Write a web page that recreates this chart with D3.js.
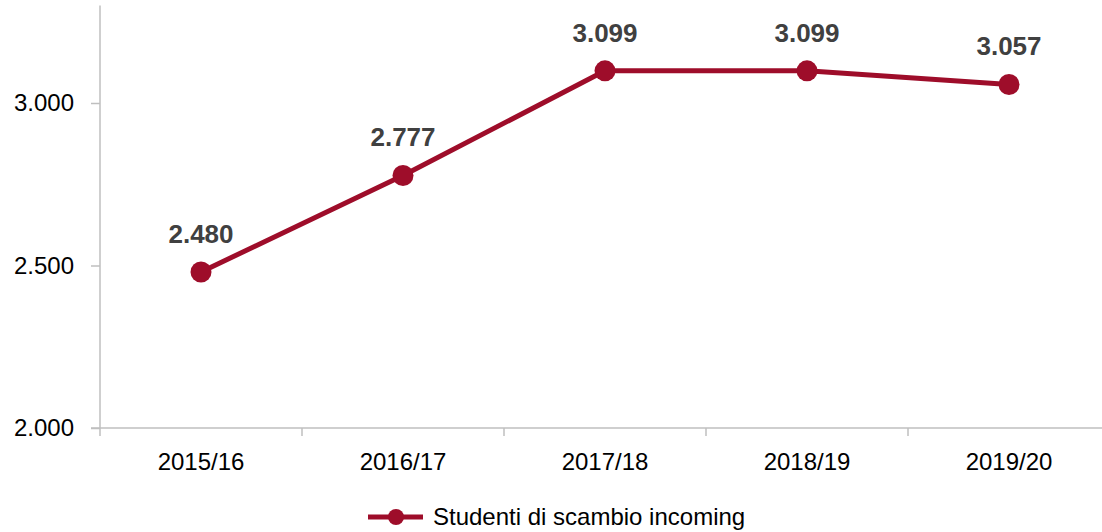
<!DOCTYPE html>
<html><head><meta charset="utf-8">
<script src="https://cdn.jsdelivr.net/npm/d3@7"></script>
<style>
body{margin:0;background:#fff;}
svg{display:block;font-family:"Liberation Sans",Arial,sans-serif;}
</style></head>
<body><svg id="c" width="1102" height="532"></svg>
<script>
const categories = ["2015/16","2016/17","2017/18","2018/19","2019/20"];
const values = [2480, 2777, 3099, 3099, 3057];
const valueLabels = ["2.480","2.777","3.099","3.099","3.057"];
const yTicks = [2000, 2500, 3000];
const yTickLabels = ["2.000","2.500","3.000"];
const seriesName = "Studenti di scambio incoming";

const color = "#9e0d2a";
const axisColor = "#bfbfbf";
const svg = d3.select("#c");

const x = d3.scaleBand().domain(categories).range([100, 1110]);
const y = d3.scaleLinear().domain([2000, 3300]).range([428, 5.5]);

// y axis
const yAxis = svg.append("g").attr("transform","translate(100,0)")
  .call(d3.axisLeft(y).tickValues(yTicks).tickSize(9).tickSizeOuter(0)
    .tickFormat((d,i)=>yTickLabels[i]));
yAxis.select(".domain").remove();
yAxis.selectAll(".tick line").attr("stroke",axisColor).attr("stroke-width",1.5);
yAxis.selectAll(".tick text").attr("x",-26).attr("fill","#000")
  .style("font-size","24px").style("font-family","'Liberation Sans',Arial,sans-serif");
svg.append("line").attr("x1",100).attr("x2",100).attr("y1",y.range()[1]).attr("y2",436)
  .attr("stroke",axisColor).attr("stroke-width",1.5);

// x axis
const xAxis = svg.append("g").attr("transform","translate(0,428)")
  .call(d3.axisBottom(x).tickSize(0).tickSizeOuter(0));
xAxis.select(".domain").remove();
xAxis.selectAll(".tick text").attr("dy",0).attr("y",42).attr("fill","#000")
  .style("font-size","24px").style("font-family","'Liberation Sans',Arial,sans-serif");
svg.append("line").attr("x1",91).attr("x2",x.range()[1]).attr("y1",y(2000)).attr("y2",y(2000))
  .attr("stroke",axisColor).attr("stroke-width",1.5);
const bounds = categories.slice(1).map(c=>x(c));
svg.selectAll(".xb").data(bounds).enter().append("line")
  .attr("x1",d=>d).attr("x2",d=>d).attr("y1",428).attr("y2",436)
  .attr("stroke",axisColor).attr("stroke-width",1.5);

// line
const cx = c => x(c) + x.bandwidth()/2;
const pts = categories.map((c,i)=>[cx(c), y(values[i])]);
svg.append("path").attr("d", d3.line()(pts)).attr("fill","none")
  .attr("stroke",color).attr("stroke-width",5).attr("stroke-linejoin","round");
svg.selectAll(".pt").data(pts).enter().append("circle")
  .attr("cx",d=>d[0]).attr("cy",d=>d[1]).attr("r",10.5).attr("fill",color);
svg.selectAll(".lbl").data(pts).enter().append("text")
  .attr("x",d=>d[0]).attr("y",d=>d[1]-29).attr("text-anchor","middle")
  .attr("fill","#404040").attr("font-weight","bold").style("font-size","26px")
  .text((d,i)=>valueLabels[i]);

// legend
const lg = svg.append("g");
lg.append("line").attr("x1",368).attr("x2",423).attr("y1",517).attr("y2",517)
  .attr("stroke",color).attr("stroke-width",5);
lg.append("circle").attr("cx",396).attr("cy",517).attr("r",8).attr("fill",color);
lg.append("text").attr("x",433).attr("y",525).style("font-size","24px").attr("fill","#000")
  .text(seriesName);
</script></body></html>
